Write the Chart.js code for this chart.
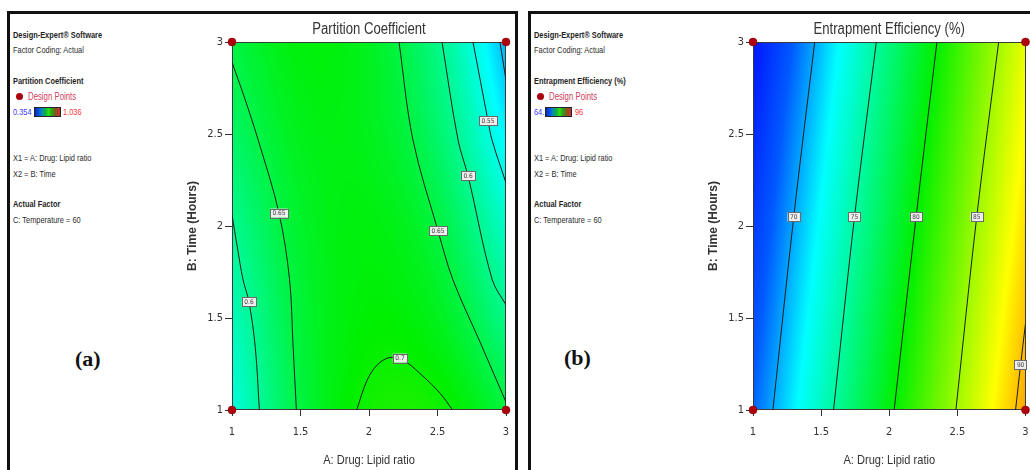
<!DOCTYPE html>
<html>
<head>
<meta charset="utf-8">
<title>Partition Coefficient / Entrapment Efficiency contours</title>
<script src="https://cdn.jsdelivr.net/npm/chart.js@4.4.1/dist/chart.umd.min.js"></script>
<style>
  body {
    margin: 0;
    width: 1030px;
    height: 470px;
    overflow: hidden;
    position: relative;
    background: #fff;
    font-family: "Liberation Sans", Arial, sans-serif;
    color: #333;
  }
  .panel {
    position: absolute;
    top: 11px;
    height: 480px;
    border: 3px solid #111;
    border-bottom: none;
  }
  #panelA { left: 7px; width: 505px; }
  #panelB { left: 528px; width: 520px; }
  .note {
    position: absolute;
    font-size: 9.5px;
    line-height: 12px;
    white-space: nowrap;
    color: #2a2a2a;
    transform: scaleX(0.78);
    transform-origin: 0 0;
  }
  .note.head { font-weight: bold; color: #1e1e1e; }
  .note.low { color: #3a3aff; }
  .note.high { color: #ff3a3a; }
  .note.pts { color: #d04060; font-size: 10px; }
  .dot {
    position: absolute;
    width: 7px;
    height: 7px;
    border-radius: 50%;
    background: #a8000c;
  }
  .bar {
    position: absolute;
    height: 10px;
    border: 1px solid #223;
    box-sizing: border-box;
    background: linear-gradient(to right, #1a2a9a 0%, #0050ee 14%, #0a8fa8 28%, #10b040 42%,
      #30e010 55%, #22a812 66%, #7a5a1a 80%, #cc3030 100%);
  }
  .tag {
    position: absolute;
    font-family: "Liberation Serif", "DejaVu Serif", serif;
    font-weight: bold;
    font-size: 22px;
    color: #111;
  }
  canvas { position: absolute; }
</style>
</head>
<body>
<div class="panel" id="panelA"></div>
<div class="panel" id="panelB"></div>

<!-- side notes, left panel -->
<div class="note head" style="left:13px;top:29px">Design-Expert® Software</div>
<div class="note" style="left:13px;top:44px">Factor Coding: Actual</div>
<div class="note head" style="left:13px;top:75px">Partition Coefficient</div>
<div class="dot" style="left:16px;top:93px"></div>
<div class="note pts" style="left:28px;top:91px">Design Points</div>
<div class="note low" style="left:13px;top:106px">0.354</div>
<div class="bar" style="left:34px;top:107px;width:27px"></div>
<div class="note high" style="left:63px;top:106px">1.036</div>
<div class="note" style="left:13px;top:152px">X1 = A: Drug: Lipid ratio</div>
<div class="note" style="left:13px;top:168px">X2 = B: Time</div>
<div class="note head" style="left:13px;top:198px">Actual Factor</div>
<div class="note" style="left:13px;top:214px">C: Temperature = 60</div>
<div class="tag" style="left:75px;top:346px">(a)</div>

<!-- side notes, right panel -->
<div class="note head" style="left:534px;top:29px">Design-Expert® Software</div>
<div class="note" style="left:534px;top:44px">Factor Coding: Actual</div>
<div class="note head" style="left:534px;top:75px">Entrapment Efficiency (%)</div>
<div class="dot" style="left:537px;top:93px"></div>
<div class="note pts" style="left:549px;top:91px">Design Points</div>
<div class="note low" style="left:534px;top:106px">64.</div>
<div class="bar" style="left:545px;top:107px;width:27px"></div>
<div class="note high" style="left:575px;top:106px">96</div>
<div class="note" style="left:534px;top:152px">X1 = A: Drug: Lipid ratio</div>
<div class="note" style="left:534px;top:168px">X2 = B: Time</div>
<div class="note head" style="left:534px;top:198px">Actual Factor</div>
<div class="note" style="left:534px;top:214px">C: Temperature = 60</div>
<div class="tag" style="left:564px;top:345px">(b)</div>

<canvas id="pcChart" width="340" height="456" style="left:175px;top:14px"></canvas>
<canvas id="eeChart" width="334" height="456" style="left:696px;top:14px"></canvas>

<script>
// Axis ticks (A: drug:lipid ratio, B: time in hours)
const ratioTicks = [1, 1.5, 2, 2.5, 3];
const timeTicks = [1, 1.5, 2, 2.5, 3];

// Factorial corner runs
const designPoints = [[1, 1], [1, 3], [3, 1], [3, 3]];

// Partition coefficient surface; rows are time 1 -> 3, columns ratio 1 -> 3
const pcGrid = [
  [0.546, 0.652, 0.706, 0.707, 0.655],
  [0.569, 0.658, 0.693, 0.676, 0.605],
  [0.598, 0.666, 0.686, 0.652, 0.562],
  [0.627, 0.677, 0.676, 0.624, 0.519],
  [0.651, 0.688, 0.673, 0.605, 0.485]
];
const pcRange = [0.354, 1.036];

// Partition coefficient contour lines [ratio, time]
const pc060Left = [[1, 2.06], [1.04, 1.88], [1.08, 1.71], [1.124, 1.587], [1.17, 1.34], [1.2, 1.0]];
const pc065Left = [[1, 2.89], [1.09, 2.7], [1.19, 2.47], [1.343, 2.07], [1.42, 1.71], [1.445, 1.36], [1.47, 1.0]];
const pc070 = [[1.91, 1.0], [1.985, 1.16], [2.06, 1.245], [2.15, 1.285], [2.25, 1.27], [2.37, 1.2], [2.52, 1.09], [2.61, 1.0]];
const pc065Right = [[2.219, 3], [2.321, 2.467], [2.504, 1.973], [2.613, 1.707], [2.81, 1.37], [3.0, 1.043]];
const pc060Right = [[2.533, 3], [2.65, 2.467], [2.723, 2.272], [2.9, 1.707], [3.0, 1.571]];
const pc055 = [[2.759, 3], [2.869, 2.571], [2.898, 2.467], [3.0, 2.234]];
const pc050 = [[2.956, 3], [3.0, 2.793]];
const pcLabels = [
  ["0.6", 1.124, 1.587], ["0.65", 1.343, 2.07], ["0.7", 2.226, 1.282],
  ["0.65", 2.504, 1.973], ["0.6", 2.723, 2.272], ["0.55", 2.869, 2.571]
];

// Entrapment efficiency surface; rows are time 1 -> 3, columns ratio 1 -> 3
const eeGrid = [
  [68.36, 73.96, 79.6, 85.1, 90.8],
  [67.5, 73.1, 78.7, 84.25, 89.9],
  [66.65, 72.25, 77.8, 83.4, 89.0],
  [65.8, 71.4, 76.95, 82.55, 88.15],
  [64.9, 70.5, 76.1, 81.7, 87.3]
];
const eeRange = [64, 96];

// Entrapment efficiency contour lines [ratio, time]
const ee70 = [[1.453, 3], [1.299, 2.049], [1.146, 1.0]];
const ee75 = [[1.905, 3], [1.745, 2.049], [1.591, 1.0]];
const ee80 = [[2.35, 3], [2.197, 2.049], [2.036, 1.0]];
const ee85 = [[2.803, 3], [2.642, 2.049], [2.489, 1.0]];
const ee90 = [[2.927, 1.0], [2.964, 1.245], [3.0, 1.47]];
const eeLabels = [
  ["70", 1.299, 2.049], ["75", 1.745, 2.049], ["80", 2.197, 2.049],
  ["85", 2.642, 2.049], ["90", 2.964, 1.245]
];

const NARROW = '"DejaVu Sans Condensed", "Liberation Sans", sans-serif';
const WIDE = '"Liberation Sans", "DejaVu Sans", sans-serif';

// blue -> cyan -> green -> yellow -> red, blues held a little deeper
const heatStops = [
  [0, [0, 0, 255]], [0.13, [0, 90, 255]], [0.25, [0, 255, 255]],
  [0.5, [0, 240, 0]], [0.75, [255, 255, 0]], [1, [255, 0, 0]]
];

function heatColor(t) {
  t = Math.max(0, Math.min(1, t));
  let k = 0;
  while (k < heatStops.length - 2 && t > heatStops[k + 1][0]) k++;
  const [t0, a] = heatStops[k], [t1, b] = heatStops[k + 1];
  const f = (t - t0) / (t1 - t0);
  return [a[0] + (b[0] - a[0]) * f, a[1] + (b[1] - a[1]) * f, a[2] + (b[2] - a[2]) * f];
}

// Catmull-Rom through one row/column of nodes, ends extrapolated linearly
function spline(vals, u) {
  const n = vals.length;
  const get = i => i < 0 ? 2 * vals[0] - vals[1] : i >= n ? 2 * vals[n - 1] - vals[n - 2] : vals[i];
  const k = Math.max(0, Math.min(n - 2, Math.floor(u)));
  const t = u - k;
  const p0 = get(k - 1), p1 = get(k), p2 = get(k + 1), p3 = get(k + 2);
  return 0.5 * (2 * p1 + (-p0 + p2) * t + (2 * p0 - 5 * p1 + 4 * p2 - p3) * t * t +
    (-p0 + 3 * p1 - 3 * p2 + p3) * t * t * t);
}

function surfaceAt(grid, xv, yv) {
  const u = (xv - ratioTicks[0]) / (ratioTicks[1] - ratioTicks[0]);
  const w = (yv - timeTicks[0]) / (timeTicks[1] - timeTicks[0]);
  const col = grid.map(row => spline(row, u));
  return spline(col, w);
}

// Horizontally squeezed text, Arial Narrow look
function narrowText(ctx, text, x, y, squeeze) {
  ctx.save();
  ctx.translate(x, y);
  ctx.scale(squeeze, 1);
  ctx.fillText(text, 0, 0);
  ctx.restore();
}

// Paints the response surface, plot frame, contour tags and the titles
const surfacePlugin = {
  id: 'surface',
  beforeDatasetsDraw(chart, args, opts) {
    const { ctx, chartArea: a, scales: { x, y } } = chart;
    const w = Math.round(a.right - a.left), h = Math.round(a.bottom - a.top);
    const off = document.createElement('canvas');
    off.width = w;
    off.height = h;
    const octx = off.getContext('2d');
    const img = octx.createImageData(w, h);
    const [lo, hi] = opts.range;
    for (let j = 0; j < h; j++) {
      const yv = y.getValueForPixel(a.top + j + 0.5);
      for (let i = 0; i < w; i++) {
        const xv = x.getValueForPixel(a.left + i + 0.5);
        const c = heatColor((surfaceAt(opts.grid, xv, yv) - lo) / (hi - lo));
        const k = (j * w + i) * 4;
        img.data[k] = c[0];
        img.data[k + 1] = c[1];
        img.data[k + 2] = c[2];
        img.data[k + 3] = 255;
      }
    }
    octx.putImageData(img, 0, 0);
    ctx.save();
    ctx.drawImage(off, a.left, a.top);
    ctx.strokeStyle = '#3a3a3a';
    ctx.lineWidth = 1;
    ctx.strokeRect(a.left + 0.5, a.top + 0.5, w - 1, h - 1);
    ctx.restore();
  },
  afterDatasetsDraw(chart, args, opts) {
    const { ctx, scales: { x, y } } = chart;
    ctx.save();
    ctx.font = '6.5px ' + NARROW;
    ctx.textAlign = 'center';
    ctx.textBaseline = 'middle';
    opts.labels.forEach(([text, xv, yv]) => {
      const px = x.getPixelForValue(xv), py = y.getPixelForValue(yv);
      const bw = ctx.measureText(text).width + 5, bh = 9;
      ctx.fillStyle = '#eeeeee';
      ctx.fillRect(px - bw / 2, py - bh / 2, bw, bh);
      ctx.strokeStyle = '#6a6a6a';
      ctx.lineWidth = 1;
      ctx.strokeRect(Math.round(px - bw / 2) + 0.5, Math.round(py - bh / 2) + 0.5, Math.round(bw), bh);
      ctx.fillStyle = '#444';
      ctx.fillText(text, px, py + 0.5);
    });
    ctx.restore();
  },
  afterDraw(chart, args, opts) {
    const { ctx, chartArea: a } = chart;
    const mid = (a.left + a.right) / 2;
    ctx.save();
    ctx.fillStyle = '#333';
    ctx.textAlign = 'center';
    ctx.textBaseline = 'middle';
    ctx.font = '16px ' + WIDE;
    narrowText(ctx, opts.title, mid, 16, 0.82);
    ctx.font = '13.5px ' + WIDE;
    narrowText(ctx, opts.xTitle, mid, 446, 0.82);
    ctx.restore();
  }
};

function toPoints(arr) {
  return arr.map(([x, y]) => ({ x, y }));
}

function contourChart(id, grid, range, lines, labels, title, padRight) {
  const lineSets = lines.map(l => ({
    data: toPoints(l),
    showLine: true,
    borderColor: '#1c1c1c',
    borderWidth: 1,
    pointRadius: 0,
    tension: 0.35
  }));
  const pointSet = {
    data: toPoints(designPoints),
    pointRadius: 4,
    backgroundColor: '#b0000c',
    borderColor: '#7a0008',
    borderWidth: 0.5,
    clip: false
  };

  return new Chart(document.getElementById(id), {
    type: 'scatter',
    data: { datasets: [...lineSets, pointSet] },
    options: {
      responsive: false,
      animation: false,
      events: [],
      layout: { padding: { top: 28, right: padRight, left: 0, bottom: 0 } },
      plugins: {
        legend: { display: false },
        tooltip: { enabled: false },
        surface: { grid, range, labels, title, xTitle: 'A: Drug: Lipid ratio' }
      },
      scales: {
        x: {
          type: 'linear',
          min: 1,
          max: 3,
          afterBuildTicks: s => { s.ticks = ratioTicks.map(v => ({ value: v })); },
          afterFit: s => { s.height = 60; s.paddingLeft = 0; s.paddingRight = 0; },
          ticks: {
            callback: v => String(v),
            font: { family: NARROW, size: 11 },
            color: '#333',
            padding: 10,
            maxRotation: 0,
            autoSkip: false
          },
          grid: { drawOnChartArea: false, tickLength: 6, color: '#333' },
          border: { display: false }
        },
        y: {
          type: 'linear',
          min: 1,
          max: 3,
          afterBuildTicks: s => { s.ticks = timeTicks.map(v => ({ value: v })); },
          afterFit: s => { s.width = 57; s.paddingTop = 0; s.paddingBottom = 0; },
          ticks: {
            callback: v => String(v),
            font: { family: NARROW, size: 11 },
            color: '#333',
            padding: 2,
            autoSkip: false
          },
          grid: { drawOnChartArea: false, tickLength: 7, color: '#333' },
          border: { display: false },
          title: {
            display: true,
            text: 'B: Time (Hours)',
            font: { family: WIDE, size: 12, weight: 'bold' },
            color: '#333',
            padding: { top: 10, bottom: 0 }
          }
        }
      }
    },
    plugins: [surfacePlugin]
  });
}

contourChart('pcChart', pcGrid, pcRange,
  [pc060Left, pc065Left, pc070, pc065Right, pc060Right, pc055, pc050],
  pcLabels, 'Partition Coefficient', 9);

contourChart('eeChart', eeGrid, eeRange,
  [ee70, ee75, ee80, ee85, ee90],
  eeLabels, 'Entrapment Efficiency (%)', 3);
</script>
</body>
</html>
